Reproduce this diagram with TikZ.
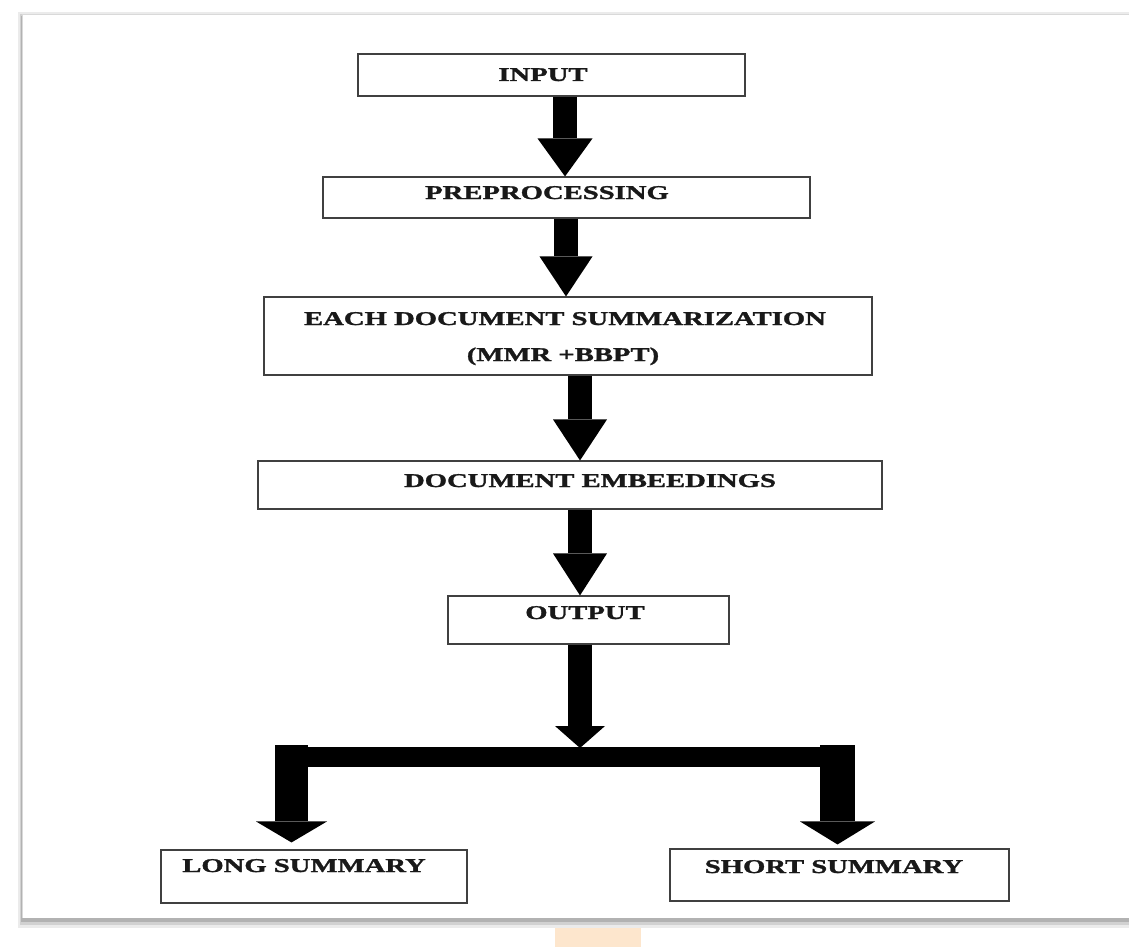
\documentclass[tikz,border=0pt]{standalone}
\usepackage{fontspec}
\usepackage{graphicx}
\setmainfont{Liberation Serif}
\newfontfamily\lbfont{Liberation Serif}[BoldFeatures={FakeBold=1.2}]
\usetikzlibrary{arrows.meta}
\newcommand\sx[1]{\scalebox{1.47}[1]{#1}}
\definecolor{peach}{RGB}{253,230,205}
\begin{document}
\begin{tikzpicture}[x=1pt,y=-1pt,
  box/.style={draw=black!75,line width=1.1pt,rectangle,inner sep=0pt,fill=white},
  lbl/.style={font=\fontsize{19.5}{22}\lbfont\bfseries,anchor=base,inner sep=0pt,text=black!90},
  fat/.style={line width=24pt,-{Triangle[width=55pt,length=38pt,line width=0pt]}}]
\useasboundingbox (0,0) rectangle (1129,947);
\fill[white] (0,0) rectangle (1129,947);
% page frame with shadow
\fill[peach] (555,920) rectangle (641,947);
\fill[black!8] (18,12) rectangle (1129,928);
\fill[black!18] (20,14) rectangle (1129,925);
\fill[black!30] (21,16) rectangle (1129,922);
\fill[white] (22,14) rectangle (1129,918);
\draw[black!15,line width=0.8pt] (22,918) -- (22,14) -- (1129,14);
% boxes
\node[box,minimum width=387pt,minimum height=42pt] (input) at (551.5,75) {};
\node[box,minimum width=487pt,minimum height=41pt] (pre) at (566.5,197.5) {};
\node[box,minimum width=608pt,minimum height=78pt] (each) at (568,336) {};
\node[box,minimum width=624pt,minimum height=48pt] (emb) at (570,485) {};
\node[box,minimum width=281pt,minimum height=48pt] (out) at (588.5,620) {};
\node[box,minimum width=306pt,minimum height=53pt] (long) at (314,876.5) {};
\node[box,minimum width=339pt,minimum height=52pt] (short) at (839.5,875) {};
% labels
\node[lbl] (tinput) at (543,81) {\sx{INPUT}};
\node[lbl] (tpre) at (547,199) {\sx{PREPROCESSING}};
\node[lbl] (teach) at (565,325) {\sx{EACH DOCUMENT SUMMARIZATION}};
\node[lbl] (teach2) at (563,361) {\sx{(MMR +BBPT)}};
\node[lbl] (temb) at (590,487) {\sx{DOCUMENT EMBEEDINGS}};
\node[lbl] (tout) at (585,619) {\sx{OUTPUT}};
\node[lbl] (tlong) at (304,872) {\sx{LONG SUMMARY}};
\node[lbl] (tshort) at (834,873) {\sx{SHORT SUMMARY}};
% arrow x positions
\coordinate (x1) at (565,0);
\coordinate (x2) at (566,0);
\coordinate (x3) at (580,0);
\coordinate (x5) at (580,0);
\coordinate (split) at (580,748);
\coordinate (bl) at (275,757);
\coordinate (br) at (855,757);
\coordinate (lt) at (291.5,745);
\coordinate (rt) at (837.5,745);
% connectors
\draw[fat] (input.south -| x1) -- (pre.north -| x1);
\draw[fat,-{Triangle[width=53pt,length=40pt,line width=0pt]}] (pre.south -| x2) -- (each.north -| x2);
\draw[fat,-{Triangle[width=54pt,length=41pt,line width=0pt]}] (each.south -| x3) -- (emb.north -| x3);
\draw[fat,-{Triangle[width=54pt,length=42pt,line width=0pt]}] (emb.south -| x3) -- (out.north -| x3);
\draw[fat,-{Triangle[width=50pt,length=22pt,line width=0pt]}] (out.south -| x5) -- (split);
\draw[line width=20pt] (bl) -- (br);
\draw[line width=33pt,-{Triangle[width=71pt,length=21pt,line width=0pt]},shorten >=7pt] (lt) -- (long.north -| lt);
\draw[line width=35pt,-{Triangle[width=75pt,length=23pt,line width=0pt]},shorten >=4pt] (rt) -- (short.north -| rt);
\end{tikzpicture}
\end{document}
